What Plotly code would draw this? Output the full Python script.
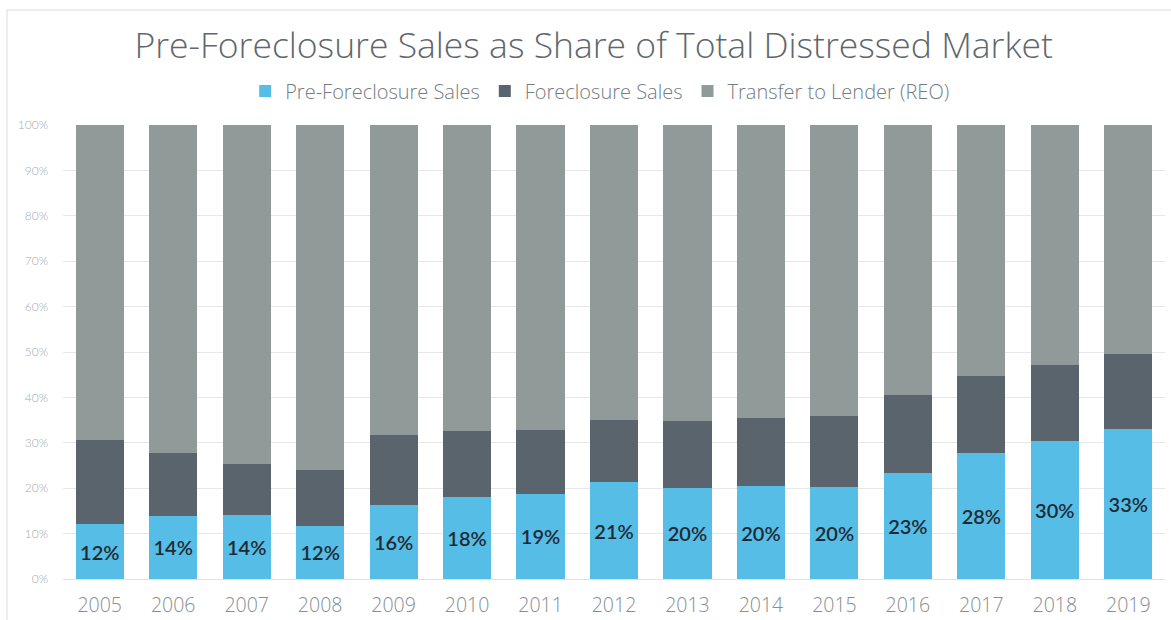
import plotly.graph_objects as go

years = ["2005", "2006", "2007", "2008", "2009", "2010", "2011", "2012",
         "2013", "2014", "2015", "2016", "2017", "2018", "2019"]
pre_foreclosure = [12.1, 13.9, 14.0, 11.7, 16.3, 18.1, 18.8, 21.3,
                   20.1, 20.4, 20.2, 23.3, 27.7, 30.4, 33.1]
foreclosure = [18.5, 13.9, 11.3, 12.3, 15.5, 14.4, 14.0, 13.7,
               14.7, 15.1, 15.7, 17.2, 17.0, 16.8, 16.4]
reo = [100 - a - b for a, b in zip(pre_foreclosure, foreclosure)]
pre_labels = ["12%", "14%", "14%", "12%", "16%", "18%", "19%", "21%",
              "20%", "20%", "20%", "23%", "28%", "30%", "33%"]
y_ticks = [0, 10, 20, 30, 40, 50, 60, 70, 80, 90, 100]
y_tick_labels = ["0%", "10%", "20%", "30%", "40%", "50%", "60%", "70%", "80%", "90%", "100%"]

FONT = "Open Sans"

fig = go.Figure()
fig.add_trace(go.Bar(
    x=years, y=pre_foreclosure, name="Pre-Foreclosure Sales",
    marker=dict(color="#55bde6", line=dict(width=0)),
    text=pre_labels, textposition="inside", insidetextanchor="middle",
    textangle=0, constraintext="none",
    textfont=dict(family="Lato", size=20, color="#1f2b34", weight=600),
))
fig.add_trace(go.Bar(
    x=years, y=foreclosure, name="Foreclosure Sales",
    marker=dict(color="#5a646c", line=dict(width=0)),
))
fig.add_trace(go.Bar(
    x=years, y=reo, name="Transfer to Lender (REO)",
    marker=dict(color="#8f9a99", line=dict(width=0)),
))

fig.update_layout(
    width=1171, height=620,
    barmode="stack", bargap=0.345,
    plot_bgcolor="white", paper_bgcolor="white",
    margin=dict(l=63, r=6, t=125, b=41, autoexpand=False),
    title=dict(
        text="Pre-Foreclosure Sales as Share of Total Distressed Market",
        x=0.507, xanchor="center", y=0.927, yanchor="middle",
        font=dict(family=FONT, size=35.5, color="#5f676c", weight=300),
    ),
    legend=dict(
        orientation="h", x=0.487, xanchor="center", y=1.075, yanchor="middle",
        font=dict(family=FONT, size=20, color="#737d82", weight=300),
        itemsizing="constant", traceorder="normal",
    ),
    showlegend=True,
    xaxis=dict(
        showgrid=False, showline=False, ticks="", automargin=False,
        tickfont=dict(family=FONT, size=19.5, color="#858e93", weight=300),
        ticklabelstandoff=12,
    ),
    yaxis=dict(
        range=[0, 100], tickvals=y_ticks, ticktext=y_tick_labels,
        showgrid=True, gridcolor="#e6e7e8", gridwidth=1,
        zeroline=True, zerolinecolor="#e0e1e2", zerolinewidth=1,
        showline=False, ticks="", automargin=False,
        tickfont=dict(family="Lato", size=12, color="#a3abaf", weight=300),
        ticklabelstandoff=14,
    ),
    shapes=[dict(
        type="rect", xref="paper", yref="paper",
        x0=-0.0508, x1=1.05, y0=-0.3, y1=1.2533,
        line=dict(color="#dcdcdc", width=1), fillcolor="rgba(0,0,0,0)",
        layer="below",
    )],
)

fig.write_html("out.html")
